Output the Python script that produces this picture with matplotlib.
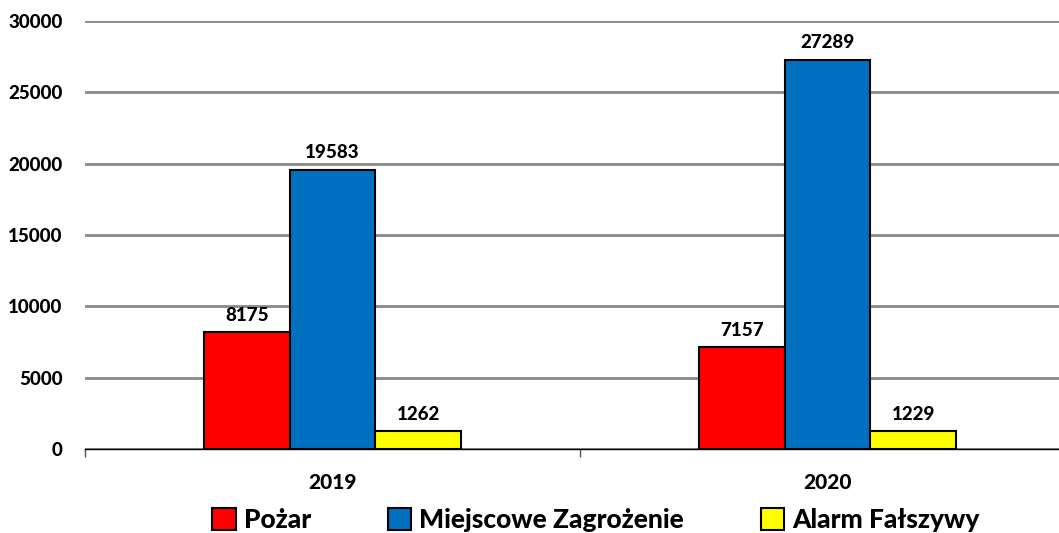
import matplotlib
matplotlib.use("Agg")
import matplotlib.pyplot as plt
import numpy as np

plt.rcParams['font.family'] = ['Lato', 'DejaVu Sans']
plt.rcParams['font.weight'] = 'black'

years = ["2019", "2020"]
series_names = ["Pożar", "Miejscowe Zagrożenie", "Alarm Fałszywy"]
pozar = [8175, 7157]
miejscowe = [19583, 27289]
alarm = [1262, 1229]
colors = ["#ff0000", "#0070c0", "#ffff00"]

fig = plt.figure(figsize=(10.59, 5.33), dpi=100)
W, H = 1059, 533
ax = fig.add_axes([85 / W, (H - 449) / H, (1075 - 85) / W, 428 / H])

x = np.arange(len(years))
bw = 0.173
handles = []
for i, (vals, col, name) in enumerate(zip([pozar, miejscowe, alarm], colors, series_names)):
    bars = ax.bar(x + (i - 1) * bw, vals, bw, color=col, edgecolor="black",
                  linewidth=1.5, label=name, zorder=3)
    handles.append(bars)
    for xb, v in zip(x + (i - 1) * bw, vals):
        ax.annotate(str(v), (xb, v), xytext=(0, 6), textcoords="offset points",
                    ha="center", va="bottom", fontsize=13.5, fontweight="black")

ax.set_xlim(-0.5, 1.5)
ax.set_ylim(0, 30000)
ax.set_yticks(np.arange(0, 30001, 5000))
ax.yaxis.grid(True, color="#898989", linewidth=2, zorder=0)
ax.set_axisbelow(True)
for s in ["left", "right", "top"]:
    ax.spines[s].set_visible(False)
ax.spines["bottom"].set_linewidth(1)
ax.tick_params(axis="y", length=0, pad=16, labelsize=13.5)
ax.set_xticks(x)
ax.set_xticklabels(years, fontsize=15, fontweight="black")
ax.tick_params(axis="x", length=0, pad=17)
ax.set_xticks([-0.5, 0.5, 1.5], minor=True)
ax.tick_params(axis="x", which="minor", length=6, color="#555555", width=1)
for lab in ax.get_yticklabels():
    lab.set_fontweight("black")

fig.legend(handles=handles, labels=series_names, loc="center", ncol=3,
           bbox_to_anchor=(596 / W, (H - 520) / H), frameon=False,
           handlelength=0.9, handleheight=0.9, handletextpad=0.3,
           columnspacing=2.9, prop={"weight": "black", "size": 19})

fig.savefig("out.png", dpi=100)
